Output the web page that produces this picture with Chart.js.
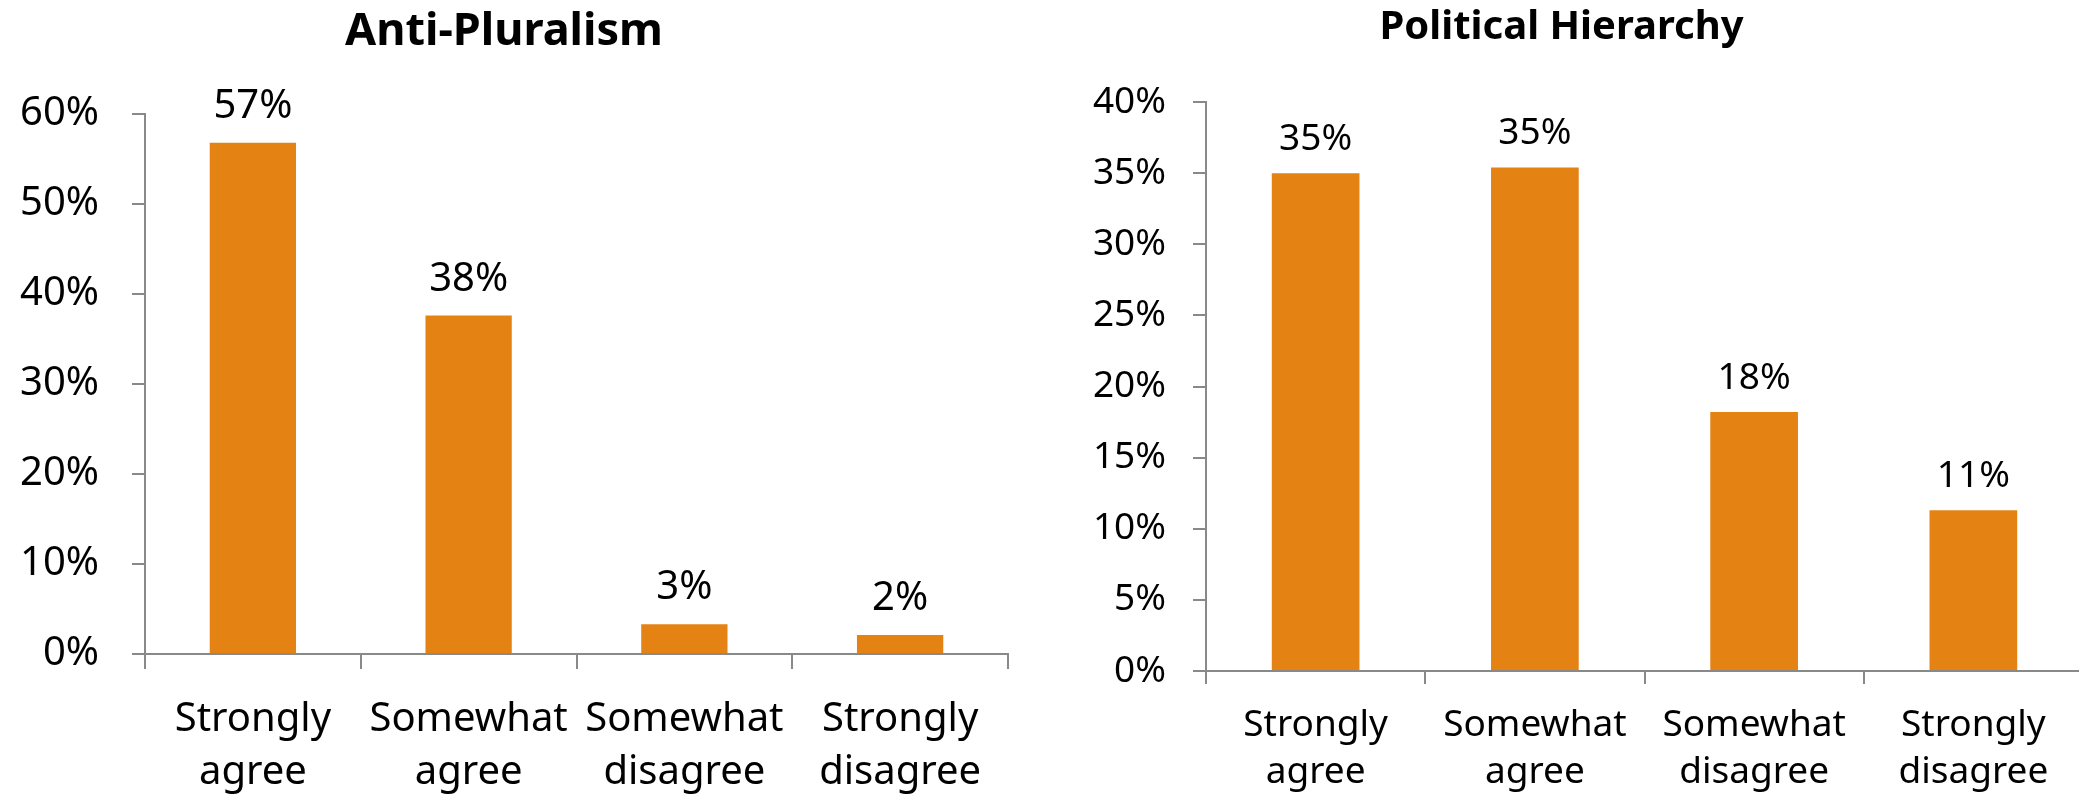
<!DOCTYPE html>
<html>
<head>
<meta charset="utf-8">
<script src="https://cdn.jsdelivr.net/npm/chart.js@4.4.1/dist/chart.umd.min.js"></script>
<style>
  html, body { margin: 0; padding: 0; background: #fff; width: 2079px; height: 801px; overflow: hidden; }
  .box { position: absolute; top: 0; height: 801px; }
  #box-1 { left: 0; width: 1036px; }
  #box-2 { left: 1040px; width: 1111px; }
</style>
</head>
<body>
<div class="box" id="box-1"><canvas id="onderwerp-1"></canvas></div>
<div class="box" id="box-2"><canvas id="onderwerp-2"></canvas></div>
<script>
const categories = [
  ['Strongly', 'agree'],
  ['Somewhat', 'agree'],
  ['Somewhat', 'disagree'],
  ['Strongly', 'disagree']
];
const antiPluralism = [56.8, 37.6, 3.3, 2.1];
const politicalHierarchy = [35.0, 35.4, 18.2, 11.3];

const ORANGE = '#E48314';
const GREY = '#898989';
const FONT = "'Noto Sans', sans-serif";

// writes the rounded value above every bar
const barLabels = {
  id: 'barLabels',
  afterDatasetsDraw(chart, args, opts) {
    const ctx = chart.ctx;
    ctx.save();
    ctx.font = opts.size + 'px ' + FONT;
    ctx.fillStyle = '#000';
    ctx.textAlign = 'center';
    ctx.textBaseline = 'alphabetic';
    chart.getDatasetMeta(0).data.forEach((bar, i) => {
      const v = chart.data.datasets[0].data[i];
      ctx.fillText(Math.round(v) + '%', bar.x, bar.y - opts.offset);
    });
    ctx.restore();
  }
};

function createChart(el, title, values, s) {
  return new Chart(document.getElementById(el), {
    type: 'bar',
    data: {
      labels: categories,
      datasets: [{
        data: values,
        backgroundColor: ORANGE,
        borderWidth: 0,
        categoryPercentage: 0.4,
        barPercentage: 1
      }]
    },
    plugins: [barLabels],
    options: {
      responsive: true,
      maintainAspectRatio: false,
      animation: false,
      layout: { padding: { left: 0, right: s.padRight, top: 0, bottom: 0 } },
      plugins: {
        legend: { display: false },
        tooltip: { enabled: false },
        title: {
          display: true,
          text: title,
          color: '#000',
          font: { family: FONT, size: s.titleSize, weight: 'bold', lineHeight: 1.2 },
          padding: { top: s.titleTop, bottom: s.titleBottom }
        },
        barLabels: { size: s.labelSize, offset: s.labelOffset }
      },
      scales: {
        x: {
          afterFit: (scale) => { scale.height = s.xHeight; },
          border: { display: true, color: GREY, width: 2 },
          grid: { drawOnChartArea: false, drawTicks: true, tickLength: s.xTick, color: GREY, lineWidth: 2 },
          ticks: {
            color: '#000',
            padding: s.xPad,
            maxRotation: 0,
            autoSkip: false,
            font: { family: FONT, size: s.tickSize, lineHeight: s.xLine }
          }
        },
        y: {
          min: 0,
          max: s.max,
          afterFit: (scale) => { scale.width = s.yWidth; },
          border: { display: true, color: GREY, width: 2 },
          grid: { drawOnChartArea: false, drawTicks: true, tickLength: 13, color: GREY, lineWidth: 2 },
          ticks: {
            stepSize: s.step,
            color: '#000',
            padding: s.yPad,
            font: { family: FONT, size: s.tickSize },
            callback: (v) => v + '%'
          }
        }
      }
    }
  });
}

createChart('onderwerp-1', 'Anti-Pluralism', antiPluralism, {
  padRight: 28, titleSize: 45, titleTop: 5, titleBottom: 55,
  labelSize: 40, labelOffset: 25, xHeight: 147, xTick: 15, xPad: 24, xLine: 1.325,
  tickSize: 40, max: 60, step: 10, yWidth: 145, yPad: 33
});

createChart('onderwerp-2', 'Political Hierarchy', politicalHierarchy, {
  padRight: 68, titleSize: 40, titleTop: 4, titleBottom: 50,
  labelSize: 37, labelOffset: 23, xHeight: 130, xTick: 13, xPad: 18, xLine: 1.262,
  tickSize: 37, max: 40, step: 5, yWidth: 166, yPad: 27
});
</script>
</body>
</html>
